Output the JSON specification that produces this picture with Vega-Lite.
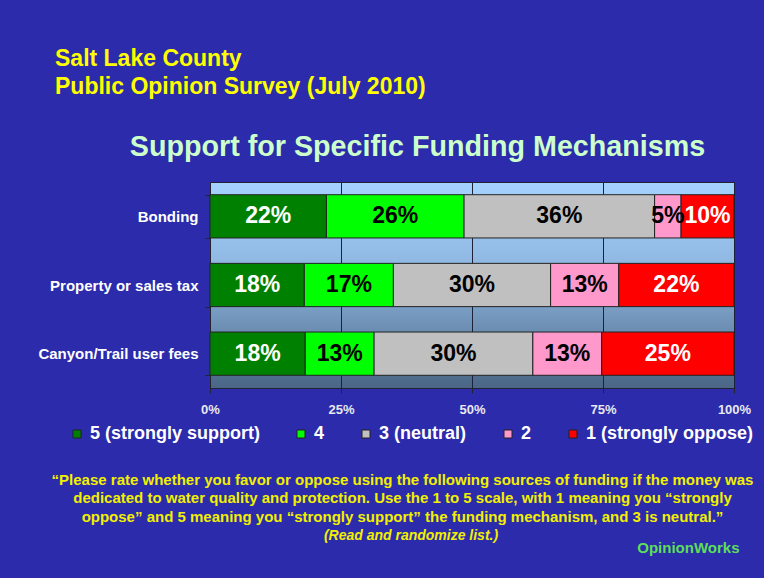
{
  "$schema": "https://vega.github.io/schema/vega-lite/v6.json",
  "width": 524,
  "height": 206,
  "autosize": {"type": "none"},
  "padding": {"left": 210, "top": 182, "right": 30, "bottom": 190},
  "background": "#2b2bab",
  "title": {"text": ["Salt Lake County", "Public Opinion Survey (July 2010)"]},
  "data": {
    "values": [
      {"item": "Bonding", "level": "5 (strongly support)", "order": 1, "pct": 0.22},
      {"item": "Bonding", "level": "4", "order": 2, "pct": 0.26},
      {"item": "Bonding", "level": "3 (neutral)", "order": 3, "pct": 0.36},
      {"item": "Bonding", "level": "2", "order": 4, "pct": 0.05},
      {"item": "Bonding", "level": "1 (strongly oppose)", "order": 5, "pct": 0.10},
      {"item": "Property or sales tax", "level": "5 (strongly support)", "order": 1, "pct": 0.18},
      {"item": "Property or sales tax", "level": "4", "order": 2, "pct": 0.17},
      {"item": "Property or sales tax", "level": "3 (neutral)", "order": 3, "pct": 0.30},
      {"item": "Property or sales tax", "level": "2", "order": 4, "pct": 0.13},
      {"item": "Property or sales tax", "level": "1 (strongly oppose)", "order": 5, "pct": 0.22},
      {"item": "Canyon/Trail user fees", "level": "5 (strongly support)", "order": 1, "pct": 0.18},
      {"item": "Canyon/Trail user fees", "level": "4", "order": 2, "pct": 0.13},
      {"item": "Canyon/Trail user fees", "level": "3 (neutral)", "order": 3, "pct": 0.30},
      {"item": "Canyon/Trail user fees", "level": "2", "order": 4, "pct": 0.13},
      {"item": "Canyon/Trail user fees", "level": "1 (strongly oppose)", "order": 5, "pct": 0.25}
    ]
  },
  "encoding": {
    "y": {
      "field": "item",
      "type": "nominal",
      "sort": ["Bonding", "Property or sales tax", "Canyon/Trail user fees"],
      "scale": {"paddingInner": 0.37, "paddingOuter": 0.185},
      "axis": {
        "title": "OpinionWorks",
        "titleAngle": 0,
        "titleX": 529,
        "titleY": 365,
        "titleAlign": "right",
        "titleBaseline": "middle",
        "titleColor": "#5ede5a",
        "titleFontSize": 15,
        "titleFontWeight": "bold",
        "labelColor": "#ffffff",
        "labelFontSize": 15,
        "labelFontWeight": "bold",
        "labelPadding": 7,
        "labelLimit": 300,
        "ticks": true,
        "tickBand": "extent",
        "tickSize": 5,
        "tickColor": "#222233",
        "domain": true,
        "domainColor": "#222233",
        "grid": false
      }
    },
    "order": {"field": "order", "type": "quantitative"}
  },
  "layer": [
    {
      "mark": {"type": "bar", "stroke": "#222222", "strokeWidth": 1},
      "encoding": {
        "x": {
          "field": "pct",
          "type": "quantitative",
          "stack": "normalize",
          "scale": {"domain": [0, 1], "nice": false},
          "axis": {
            "orient": "bottom",
            "format": ".0%",
            "values": [0, 0.25, 0.5, 0.75, 1],
            "labelColor": "#e8e8ee",
            "labelFontSize": 13,
            "labelFontWeight": "bold",
            "labelPadding": 10,
            "labelFlush": false,
            "ticks": true,
            "tickSize": 5,
            "tickColor": "#222233",
            "domain": true,
            "domainColor": "#222233",
            "grid": true,
            "gridColor": "#1c2238",
            "gridOpacity": 1,
            "gridWidth": 1,
            "title": [
              "“Please rate whether you favor or oppose using the following sources of funding if the money was",
              "dedicated to water quality and protection.  Use the 1 to 5 scale, with 1 meaning you “strongly",
              "oppose” and 5 meaning you “strongly support” the funding mechanism, and 3 is neutral.”"
            ],
            "titleX": 192,
            "titleAlign": "center",
            "titleColor": "#f2f000",
            "titleFontSize": 15,
            "titleFontWeight": "bold",
            "titleLineHeight": 18.5,
            "titlePadding": 56
          }
        },
        "color": {
          "field": "level",
          "type": "nominal",
          "scale": {
            "domain": ["5 (strongly support)", "4", "3 (neutral)", "2", "1 (strongly oppose)"],
            "range": ["#008000", "#00ff00", "#c0c0c0", "#ff99cc", "#ff0000"]
          },
          "legend": {
            "orient": "none",
            "legendX": -142,
            "legendY": 243,
            "direction": "horizontal",
            "columns": 5,
            "columnPadding": 32,
            "symbolType": "square",
            "symbolSize": 64,
            "symbolStrokeColor": "#222222",
            "symbolStrokeWidth": 1,
            "labelColor": "#ffffff",
            "labelFontSize": 18,
            "labelFontWeight": "bold",
            "labelOffset": 4,
            "labelLimit": 300,
            "title": "(Read and randomize list.)",
            "titleOrient": "bottom",
            "titleAnchor": "middle",
            "titlePadding": 86,
            "titleColor": "#f2f000",
            "titleFontSize": 14,
            "titleFontWeight": "bold",
            "titleFontStyle": "italic",
            "titleLimit": 600
          }
        }
      }
    },
    {
      "mark": {"type": "text", "fontSize": 23, "fontWeight": "bold"},
      "encoding": {
        "x": {
          "field": "pct",
          "type": "quantitative",
          "stack": "normalize",
          "bandPosition": 0.5,
          "axis": {
            "orient": "top",
            "labels": false,
            "ticks": false,
            "domain": false,
            "grid": false,
            "title": "Support for Specific Funding Mechanisms",
            "titleX": 207,
            "titleAlign": "center",
            "titleColor": "#ccffcc",
            "titleFontSize": 28.7,
            "titleFontWeight": "bold",
            "titlePadding": 21
          }
        },
        "text": {"field": "pct", "type": "quantitative", "format": ".0%"},
        "color": {
          "condition": {"test": "datum.order == 1 || datum.order == 5", "value": "#ffffff"},
          "value": "#000000"
        }
      }
    }
  ],
  "resolve": {"axis": {"x": "independent"}},
  "config": {
    "font": "Liberation Sans",
    "view": {
      "stroke": "#222233",
      "strokeWidth": 1,
      "fill": {
        "gradient": "linear",
        "x1": 0, "y1": 0, "x2": 0, "y2": 1,
        "stops": [
          {"offset": 0, "color": "#a4d2ff"},
          {"offset": 0.45, "color": "#8db4dd"},
          {"offset": 1, "color": "#4a6585"}
        ]
      }
    },
    "title": {
      "color": "#ffff00",
      "fontSize": 23,
      "fontWeight": "bold",
      "anchor": "start",
      "frame": "group",
      "dx": -155,
      "lineHeight": 28,
      "offset": 33
    }
  }
}
